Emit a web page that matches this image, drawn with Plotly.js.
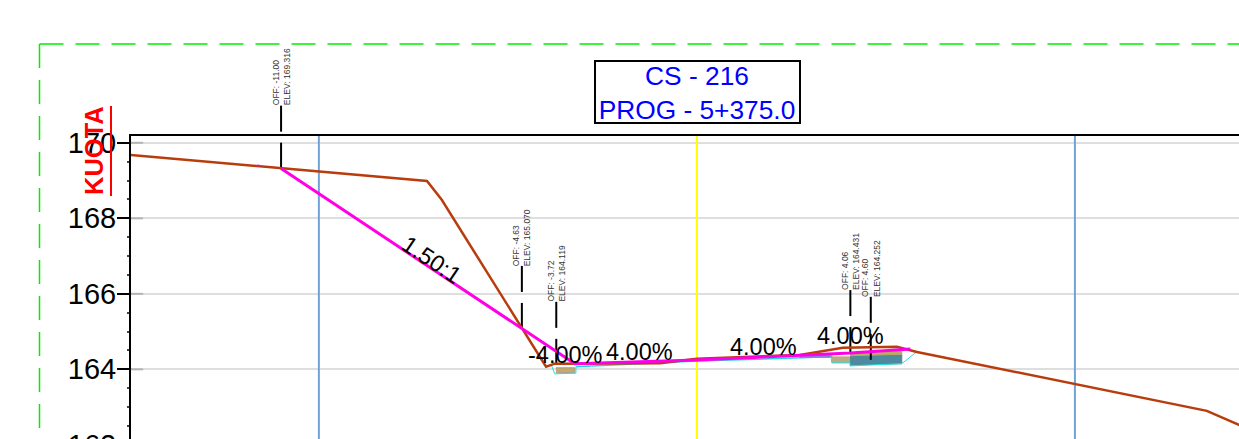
<!DOCTYPE html>
<html><head><meta charset="utf-8">
<script src="https://cdn.plot.ly/plotly-3.0.1.min.js"></script>
<style>html,body{margin:0;padding:0;background:#fff;overflow:hidden;width:1239px;height:439px}#c{width:1400px;height:560px}</style>
</head><body><div id="c"></div>
<script>
// Data, in section coordinates (offset m, elevation m)
const groundX = [-15, -11, -7.14, -6.75, -3.99, -3.76, -3.23, -0.98, 0, 2.72, 3.86, 5.29, 5.82, 10, 13.49, 14.34, 16];
const groundY = [169.68, 169.32, 168.99, 168.49, 164.07, 164.15, 164.15, 164.16, 164.28, 164.38, 164.57, 164.60, 164.46, 163.62, 162.90, 162.53, 161.9];
const designX = [-11, -4.63, -3.23, 0, 2.72, 4.06, 5.65];
const designY = [169.316, 165.07, 164.15, 164.25, 164.36, 164.431, 164.54];
const subCyanLeftX = [-3.84, -3.76, -3.2, -3.2];
const subCyanLeftY = [164.09, 163.88, 163.90, 164.07];
const subTanLeftX = [-3.73, -3.23, -3.23, -3.73];
const subTanLeftY = [164.04, 164.04, 163.91, 163.91];
const subCyanRoadX = [-3.2, 0, 3.54];
const subCyanRoadY = [164.07, 164.22, 164.33];
const subCyanRightX = [3.54, 3.57, 4.05, 4.05, 5.42, 5.85];
const subCyanRightY = [164.41, 164.17, 164.17, 164.09, 164.15, 164.49];
const tealX = [4.05, 5.42, 5.42, 4.05];
const tealY = [164.36, 164.40, 164.15, 164.11];
const tanRightX = [4.05, 5.42, 5.42, 4.05];
const tanRightY = [164.42, 164.48, 164.40, 164.36];
const tanBlockX = [3.57, 4.05, 4.05, 3.57];
const tanBlockY = [164.33, 164.33, 164.18, 164.18];
const violetX = [2.72, 3.57, 3.57, 2.72];
const violetY = [164.36, 164.40, 164.32, 164.31];
const strayX = [-11.6];
const strayY = [169.4];
const pointOffsets = [-11.00, -4.63, -3.72, 4.06, 4.60];
const pointElevs = [169.316, 165.070, 164.119, 164.431, 164.252];
const pointLabels = ["OFF: -11.00<br>ELEV: 169.316", "OFF: -4.63<br>ELEV: 165.070", "OFF: -3.72<br>ELEV: 164.119", "OFF: 4.06<br>ELEV: 164.431", "OFF: 4.60<br>ELEV: 164.252"];
const blueOffsets = [-10, 10];
const yellowOffsets = [0];
const yTicks = [160, 162, 164, 166, 168, 170];
const gradeText = ["1.50:1", "-4.00%", "4.00%", "4.00%", "4.00%"];
const gradeX = [-7.01, -3.47, -1.53, 1.75, 4.07];
const gradeY = [166.90, 164.38, 164.46, 164.60, 164.89];
const gradeAngle = [34, 0, 0, 0, 0];

const W = 1400, H = 560, L = 131, T = 136;
const px = v => (v - L) / (W - L);
const py = v => (H - v) / (H - T);
const Y0 = 158.95, Y1 = 170.18, X0 = -14.97, X1 = 18.6;
const uPerPx = 1 / 37.77;
const yToPaper = v => (v - Y0) / (Y1 - Y0);

function vline(xs, color) {
  const x = [], y = [];
  xs.forEach(v => { x.push(v, v, null); y.push(Y0, Y1, null); });
  return {x, y, mode: 'lines', line: {color, width: 2}, hoverinfo: 'skip'};
}
function poly(x, y, color, lineColor, lw) {
  return {x, y, mode: 'lines', fill: 'toself', fillcolor: color, line: {color: lineColor || color, width: lw || 1}, hoverinfo: 'skip'};
}
function path(x, y, color, width) {
  return {x, y, mode: 'lines', line: {color, width}, hoverinfo: 'skip'};
}
const stubX = [], stubY = [];
yTicks.forEach(t => { stubX.push(X0, X0 + 0.32, null); stubY.push(t, t, null); });

// Leader lines above each labelled point: two dashes with a gap.
// The upper dash can rise above the plot frame, so it is a paper-y shape that is not clipped.
const leadX = [], leadY = [], leaderShapes = [];
pointOffsets.forEach((o, i) => {
  const e = pointElevs[i];
  leadX.push(o, o, null);
  leadY.push(e, e + 26 * uPerPx, null);
  leaderShapes.push({type: 'line', xref: 'x', yref: 'paper', x0: o, x1: o,
    y0: yToPaper(e + 37 * uPerPx), y1: yToPaper(e + 63 * uPerPx), line: {color: '#000', width: 2}});
});

const traces = [
  vline(blueOffsets, '#6fa3d8'),
  vline(yellowOffsets, '#ffff00'),
  path(stubX, stubY, '#b4b4b4', 2),
  path(subCyanRoadX, subCyanRoadY, '#22d3e0', 1.5),
  poly(violetX, violetY, '#8f80e0'),
  poly(tanBlockX, tanBlockY, '#b9ab84'),
  poly(tealX, tealY, '#4d8a9e'),
  poly(tanRightX, tanRightY, '#c0a468'),
  poly(subTanLeftX, subTanLeftY, '#c9a86a', '#9c9c88'),
  path(subCyanLeftX, subCyanLeftY, '#22e0e0', 1),
  path(subCyanRightX, subCyanRightY, '#22e0e0', 1),
  path(leadX, leadY, '#000000', 2),
  path(groundX, groundY, '#b83c0c', 2.5),
  path(designX, designY, '#ff00e6', 3),
  {x: strayX, y: strayY, mode: 'markers', marker: {color: '#ff00e6', size: 2}, hoverinfo: 'skip'}
];

const annotations = [];
pointOffsets.forEach((o, i) => annotations.push({
  x: o, y: pointElevs[i], xref: 'x', yref: 'y', text: pointLabels[i], showarrow: false,
  textangle: -90, yshift: 61, xanchor: 'center', yanchor: 'bottom', align: 'left',
  font: {family: 'Liberation Sans, Arial', size: 8.5, color: '#333'}
}));
gradeText.forEach((t, i) => annotations.push({
  x: gradeX[i], y: gradeY[i], xref: 'x', yref: 'y', text: t, showarrow: false,
  textangle: gradeAngle[i], xanchor: 'center', yanchor: 'middle',
  font: {family: 'Liberation Sans, Arial', size: 23.5, color: '#000'}
}));
annotations.push({
  x: px(94), y: py(151), xref: 'paper', yref: 'paper', text: '<b>KUOTA</b>', showarrow: false,
  textangle: -90, xanchor: 'center', yanchor: 'middle',
  font: {family: 'Liberation Sans, Arial', size: 25.5, color: '#ff0000'}
});

const hline = (x0, y0, x1, y1, color, width, dash) => ({
  type: 'line', xref: 'paper', yref: 'paper', x0: px(x0), y0: py(y0), x1: px(x1), y1: py(y1),
  line: {color, width, dash: dash || 'solid'}
});
const shapes = [
  hline(39.5, 44, 39.5, 560, '#00ee00', 1.5, '24px,12px'),
  hline(39.5, 44, 1400, 44, '#00ee00', 1.5, '24px,12px'),
  hline(111, 106, 111, 196, '#ff0000', 2),
  {type: 'rect', xref: 'paper', yref: 'paper', x0: px(595), x1: px(800), y0: py(123), y1: py(61), line: {color: '#000', width: 2}, fillcolor: 'rgba(0,0,0,0)'}
].concat(leaderShapes);

Plotly.newPlot('c', traces, {
  width: W, height: H, showlegend: false,
  paper_bgcolor: '#fff', plot_bgcolor: '#fff',
  margin: {l: L, t: T, r: 0, b: 0, pad: 0},
  font: {family: 'Liberation Sans, Arial'},
  title: {
    text: 'CS - 216<br>PROG - 5+375.0', xref: 'paper', x: px(697), xanchor: 'center',
    yref: 'container', y: 1 - 85 / H, yanchor: 'middle',
    font: {family: 'Liberation Sans, Arial', size: 26.3, color: '#0000ff'}
  },
  xaxis: {range: [X0, X1], showgrid: false, zeroline: false, showticklabels: false, ticks: '',
    showline: true, linecolor: '#000', linewidth: 2, mirror: true},
  yaxis: {range: [Y0, Y1], tickmode: 'array', tickvals: yTicks, ticktext: yTicks.map(String),
    showgrid: true, gridcolor: '#dedede', gridwidth: 2, zeroline: false,
    ticks: 'outside', ticklen: 12, tickwidth: 2, tickcolor: '#000', ticklabelstandoff: -5,
    minor: {dtick: 0.5, ticks: 'outside', ticklen: 2, tickwidth: 1.5, tickcolor: '#444', showgrid: false},
    tickfont: {family: 'Liberation Sans, Arial', size: 29, color: '#000'},
    showline: true, linecolor: '#000', linewidth: 2},
  annotations, shapes
}, {displayModeBar: false, responsive: false});
</script></body></html>
